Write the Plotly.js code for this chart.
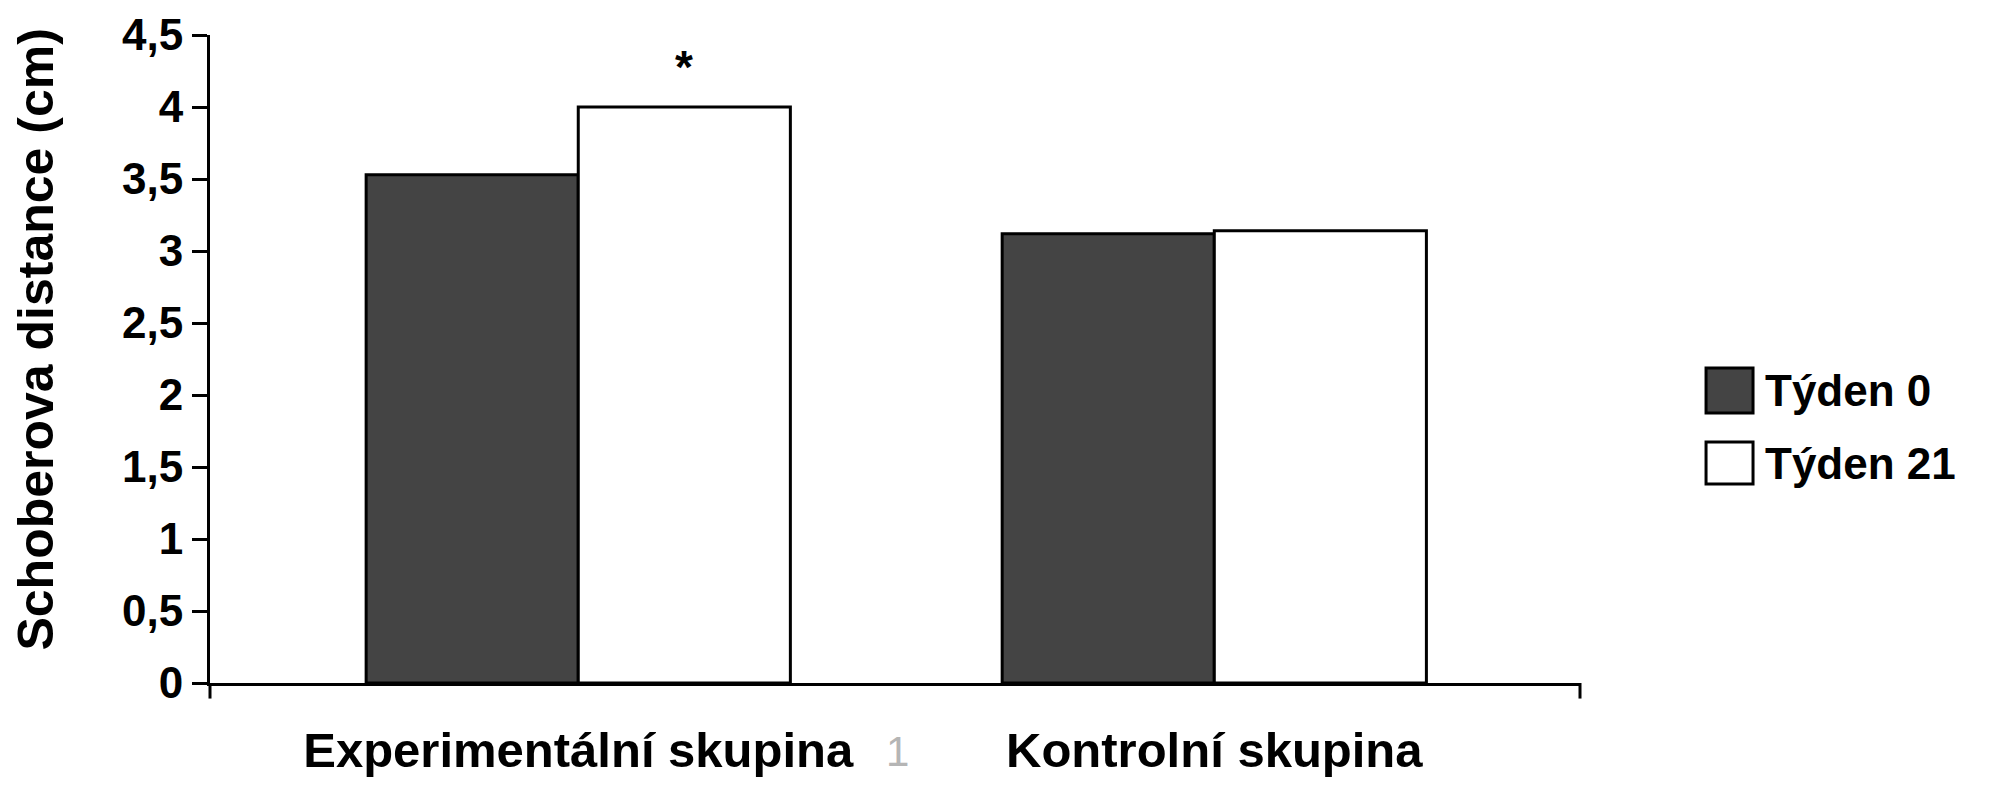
<!DOCTYPE html>
<html>
<head>
<meta charset="utf-8">
<script src="https://cdn.plot.ly/plotly-3.0.1.min.js"></script>
<style>
  html, body { margin: 0; padding: 0; background: #fff; }
  #chart { width: 2011px; height: 800px; }
</style>
</head>
<body>
<div id="chart"></div>
<script>
// ---------- DATA ----------
const groups = ["Experimentální skupina", "Kontrolní skupina"];
const seriesNames = ["Týden 0", "Týden 21"];
const week0 = [3.53, 3.12];
const week21 = [4.0, 3.14];
const yTickVals = [0, 0.5, 1, 1.5, 2, 2.5, 3, 3.5, 4, 4.5];
const yTickText = ["0", "0,5", "1", "1,5", "2", "2,5", "3", "3,5", "4", "4,5"];
const yTitle = "Schoberova distance (cm)";

// ---------- STYLE ----------
const FONT = "Liberation Sans, Arial, sans-serif";
const DARK = "#444444";
const BARGAP = 0.333;
const barWidth = (1 - BARGAP) / 2;

const traces = [
  {
    type: "bar", name: seriesNames[0], x: groups, y: week0,
    marker: { color: DARK, line: { color: "#000", width: 3 } },
    showlegend: false
  },
  {
    type: "bar", name: seriesNames[1], x: groups, y: week21,
    marker: { color: "#fff", line: { color: "#000", width: 3 } },
    showlegend: false
  }
];

// legend drawn by hand so the swatches get the large size of the original
const legendBoxes = [
  { y0: 0.4167, y1: 0.4861, fill: DARK },
  { y0: 0.3071, y1: 0.3719, fill: "#fff" }
];
const shapes = legendBoxes.map(b => ({
  type: "rect", xref: "paper", yref: "paper",
  x0: 1.092, x1: 1.1263, y0: b.y0, y1: b.y1,
  fillcolor: b.fill, line: { color: "#000", width: 3 }
}));
// end ticks of the category axis
[0, 1].forEach(px => shapes.push({
  type: "line", xref: "paper", yref: "paper",
  x0: px, x1: px, y0: 0, y1: -0.024,
  line: { color: "#000", width: 3 }
}));

const annotations = [
  {
    xref: "paper", yref: "paper", x: 1.1336, y: 0.4514, xanchor: "left", yanchor: "middle",
    text: seriesNames[0], showarrow: false,
    font: { family: FONT, size: 44, color: "#000", weight: "bold" }
  },
  {
    xref: "paper", yref: "paper", x: 1.1336, y: 0.3395, xanchor: "left", yanchor: "middle",
    text: seriesNames[1], showarrow: false,
    font: { family: FONT, size: 44, color: "#000", weight: "bold" }
  },
  {
    // y axis title, placed a bit above the axis centre like the original
    xref: "paper", yref: "paper", x: -0.127, y: 0.53, xanchor: "center", yanchor: "middle",
    text: yTitle, textangle: -90, showarrow: false,
    font: { family: FONT, size: 50, color: "#000", weight: "bold" }
  },
  {
    // significance mark over the week 21 bar of the first group
    xref: "x", yref: "y", x: barWidth / 2, y: week21[0] + 0.28,
    text: "*", showarrow: false,
    font: { family: FONT, size: 46, color: "#000", weight: "bold" }
  },
  {
    xref: "paper", yref: "paper", x: 0.502, y: -0.105, yanchor: "middle",
    text: "1", showarrow: false,
    font: { family: FONT, size: 42, color: "#b5b5b5" }
  }
];

const layout = {
  width: 2011, height: 800,
  margin: { l: 210, r: 431, t: 35, b: 117 },
  paper_bgcolor: "#fff", plot_bgcolor: "#fff",
  barmode: "group", bargap: BARGAP, bargroupgap: 0,
  showlegend: false,
  font: { family: FONT, color: "#000" },
  xaxis: {
    type: "category",
    range: [-0.579, 1.575],
    showline: true, linecolor: "#000", linewidth: 3,
    ticks: "", showgrid: false, zeroline: false,
    ticklabelstandoff: 22,
    tickfont: { family: FONT, size: 49, color: "#000", weight: "bold" }
  },
  yaxis: {
    range: [0, 4.5],
    tickvals: yTickVals, ticktext: yTickText,
    showline: true, linecolor: "#000", linewidth: 3,
    ticks: "outside", ticklen: 15, tickwidth: 3, tickcolor: "#000",
    showgrid: false, zeroline: false,
    tickfont: { family: FONT, size: 44, color: "#000", weight: "bold" }
  },
  shapes: shapes,
  annotations: annotations
};

Plotly.newPlot("chart", traces, layout, { displayModeBar: false, staticPlot: true });
</script>
</body>
</html>
